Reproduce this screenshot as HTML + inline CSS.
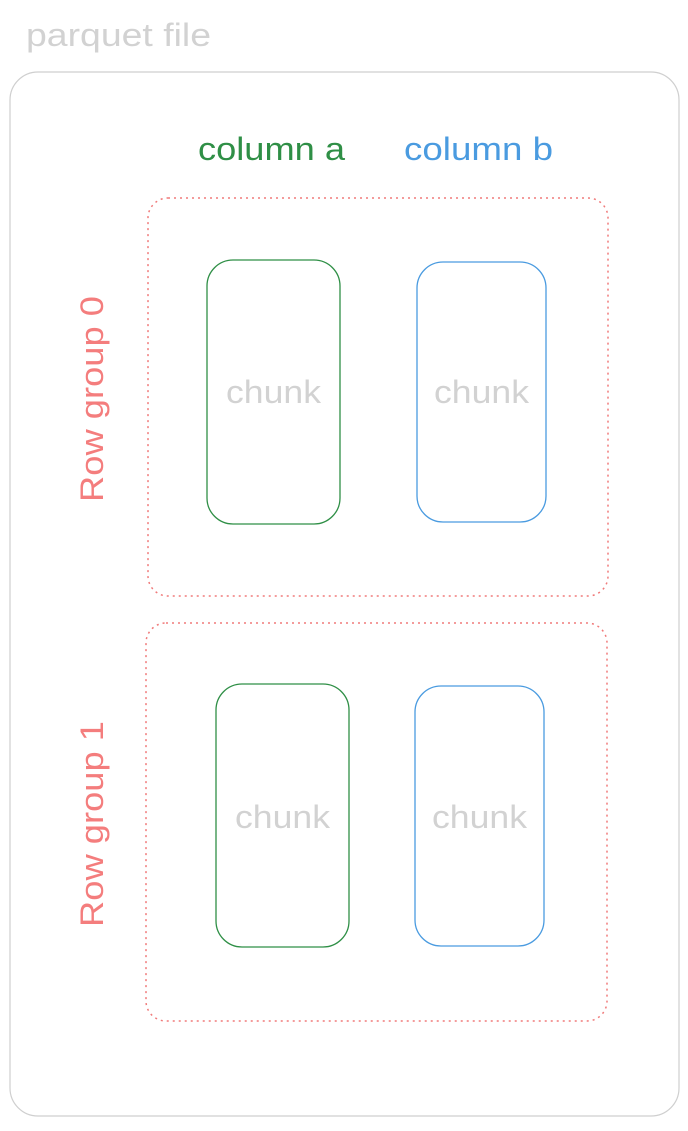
<!DOCTYPE html>
<html><head><meta charset="utf-8"><style>
html,body{margin:0;padding:0;background:#fff;}
body{width:688px;height:1126px;overflow:hidden;}
text{font-family:"Liberation Sans",sans-serif;}
</style></head><body>
<svg width="688" height="1126" viewBox="0 0 688 1126" xmlns="http://www.w3.org/2000/svg">
<text x="26" y="46" font-size="32" fill="#d2d2d2" textLength="185" lengthAdjust="spacingAndGlyphs">parquet file</text>
<rect x="10" y="72" width="669" height="1044" rx="28" fill="none" stroke="#cfcfcf" stroke-width="1.2"/>
<text x="198" y="160" font-size="32" fill="#2f8f46" textLength="147" lengthAdjust="spacingAndGlyphs">column a</text>
<text x="404" y="160" font-size="32" fill="#4a9be0" textLength="149" lengthAdjust="spacingAndGlyphs">column b</text>
<rect x="148" y="198" width="460" height="398" rx="20" fill="none" stroke="#f07a7a" stroke-width="1.5" stroke-dasharray="2,4"/>
<rect x="146" y="623" width="461" height="398" rx="20" fill="none" stroke="#f07a7a" stroke-width="1.5" stroke-dasharray="2,4"/>
<text transform="translate(103,502) rotate(-90)" font-size="32" fill="#f47d7d" textLength="206" lengthAdjust="spacingAndGlyphs">Row group 0</text>
<text transform="translate(103,927) rotate(-90)" font-size="32" fill="#f47d7d" textLength="206" lengthAdjust="spacingAndGlyphs">Row group 1</text>
<rect x="207" y="260" width="133" height="264" rx="26" fill="none" stroke="#2f8f46" stroke-width="1.3"/>
<rect x="417" y="262" width="129" height="260" rx="26" fill="none" stroke="#4a9be0" stroke-width="1.3"/>
<rect x="216" y="684" width="133" height="263" rx="26" fill="none" stroke="#2f8f46" stroke-width="1.3"/>
<rect x="415" y="686" width="129" height="260" rx="26" fill="none" stroke="#4a9be0" stroke-width="1.3"/>
<g font-size="32" fill="#d2d2d2">
<text x="226" y="403" textLength="95" lengthAdjust="spacingAndGlyphs">chunk</text>
<text x="434" y="403" textLength="95" lengthAdjust="spacingAndGlyphs">chunk</text>
<text x="235" y="828" textLength="95" lengthAdjust="spacingAndGlyphs">chunk</text>
<text x="432" y="828" textLength="95" lengthAdjust="spacingAndGlyphs">chunk</text>
</g>
</svg>
</body></html>
